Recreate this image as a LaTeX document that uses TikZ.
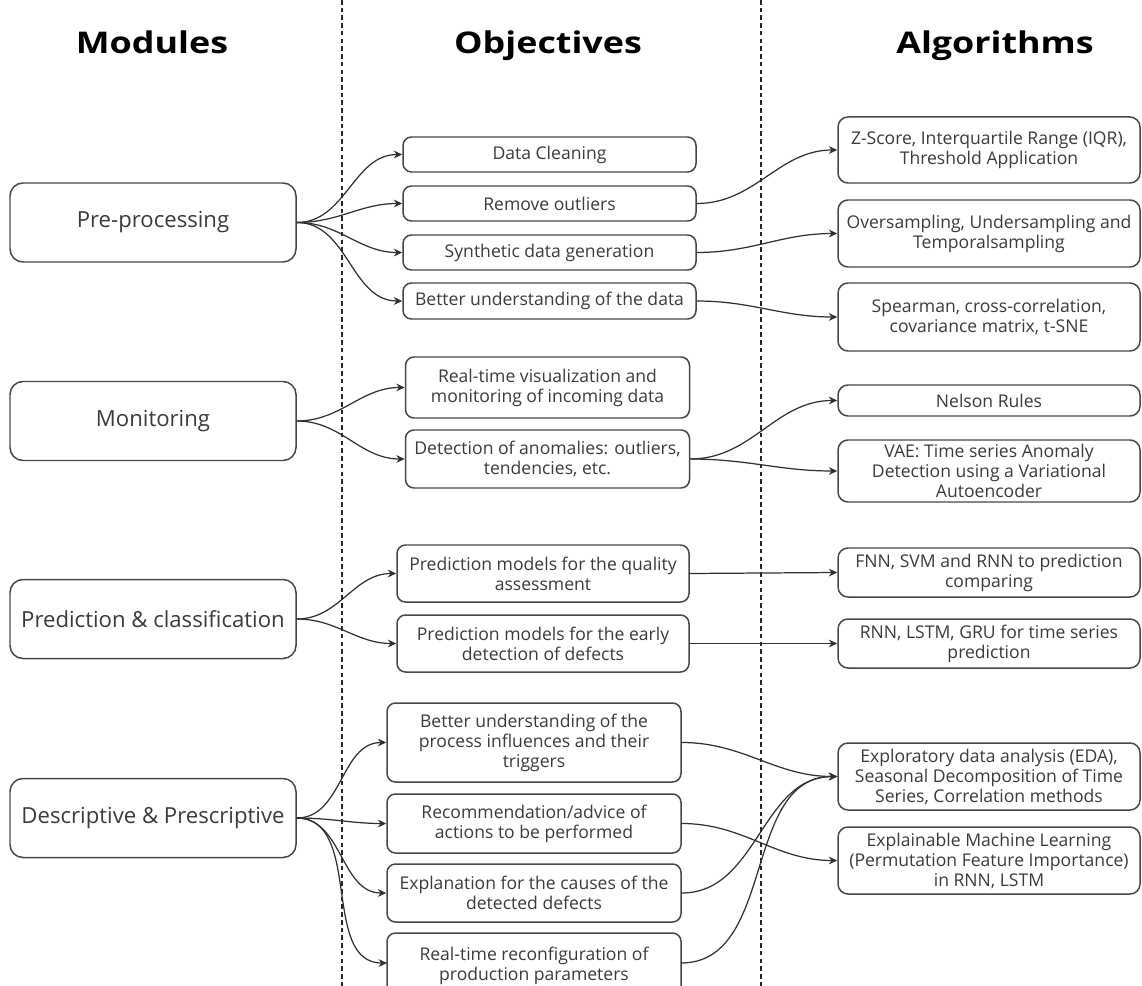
\documentclass[tikz,border=0pt]{standalone}
\usepackage{fontspec}
\setmainfont{Open Sans}
\usetikzlibrary{arrows.meta}
\definecolor{boxc}{HTML}{474747}
\definecolor{txtc}{HTML}{3A3A3A}
\definecolor{arrc}{HTML}{303030}
\newcommand{\hdrtext}[1]{\scalebox{1.2}[1.0]{#1}}
\tikzset{
  bx/.style 2 args={minimum width=#1*0.02cm, minimum height=#2*0.02cm},
  basebox/.style={draw=boxc, line width=0.85pt, inner sep=0pt, align=center, text=txtc},
  mod/.style={basebox, rounded corners=0.26cm, bx={286}{79},
    font=\fontsize{12.6pt}{15pt}\selectfont},
  obj/.style={basebox, rounded corners=0.17cm,
    font=\fontsize{10pt}{11.4pt}\selectfont},
  alg/.style={basebox, rounded corners=0.2cm,
    font=\fontsize{10pt}{11.4pt}\selectfont},
  hdr/.style={font=\fontsize{17pt}{20pt}\selectfont\bfseries, text=black, anchor=base, inner sep=0pt},
  arr/.style={draw=arrc, line width=0.7pt, -{Stealth[length=4.8pt,width=4.4pt]}},
  sep/.style={draw=black!85, line width=0.9pt, dash pattern=on 2.6pt off 1.8pt}
}
\begin{document}
\begin{tikzpicture}[x=0.02cm, y=-0.02cm]
\useasboundingbox (0,0) rectangle (1142,986);

% separators
\coordinate (s1t) at (342,0);
\coordinate (s1b) at (342,986);
\coordinate (s2t) at (761,0);
\coordinate (s2b) at (761,986);
\draw[sep] (s1t) -- (s1b);
\draw[sep] (s2t) -- (s2b);

% headers
\node[hdr] (h1) at (152,54) {\hdrtext{Modules}};
\node[hdr] (h2) at (548,54) {\hdrtext{Objectives}};
\node[hdr] (h3) at (995,54) {\hdrtext{Algorithms}};

% modules
\node[mod] (pre) at (153,222.5) {Pre-processing};
\node[mod] (mon) at (153,421) {Monitoring};
\node[mod] (pc)  at (153,619) {Prediction \& classification};
\node[mod] (dp)  at (153,818) {Descriptive \& Prescriptive};

% objectives
\node[obj, bx={293}{35}] (o1) at (549.5,154.5) {Data Cleaning};
\node[obj, bx={293}{35}] (o2) at (549.5,203.5) {Remove outliers};
\node[obj, bx={293}{35}] (o3) at (549.5,252.5) {Synthetic data generation};
\node[obj, bx={293}{36}] (o4) at (549.5,301) {Better understanding of the data};
\node[obj, bx={284}{61}] (o5) at (547.5,387.5) {Real-time visualization and\\monitoring of incoming data};
\node[obj, bx={284}{58}] (o6) at (547.5,459) {Detection of anomalies: outliers,\\tendencies, etc.};
\node[obj, bx={292}{57}] (o7) at (543,573.5) {Prediction models for the quality\\assessment};
\node[obj, bx={292}{57}] (o8) at (543,643.5) {Prediction models for the early\\detection of defects};
\node[obj, bx={294}{79}] (o9) at (534,742.5) {Better understanding of the\\process influences and their\\triggers};
\node[obj, bx={294}{59}] (o10) at (534,823.5) {Recommendation/advice of\\actions to be performed};
\node[obj, bx={294}{58}] (o11) at (534,893) {Explanation for the causes of the\\detected defects};
\node[obj, bx={294}{66}] (o12) at (534,966) {Real-time reconfiguration of\\production parameters};

% algorithms
\node[alg, bx={302}{66}] (a1) at (989,150) {Z-Score, Interquartile Range (IQR),\\Threshold Application};
\node[alg, bx={302}{67}] (a2) at (989,233.5) {Oversampling, Undersampling and\\Temporalsampling};
\node[alg, bx={302}{68}] (a3) at (989,317) {Spearman, cross-correlation,\\covariance matrix, t-SNE};
\node[alg, bx={302}{31}] (a4) at (989,400.5) {Nelson Rules};
\node[alg, bx={302}{62}] (a5) at (989,471) {VAE: Time series Anomaly\\Detection using a Variational\\Autoencoder};
\node[alg, bx={302}{49}] (a6) at (989,572.5) {FNN, SVM and RNN to prediction\\comparing};
\node[alg, bx={302}{49}] (a7) at (989,643.5) {RNN, LSTM, GRU for time series\\prediction};
\node[alg, bx={302}{67}] (a8) at (989,776.5) {Exploratory data analysis (EDA),\\Seasonal Decomposition of Time\\Series, Correlation methods};
\node[alg, bx={302}{67}] (a9) at (989,860.5) {Explainable Machine Learning\\(Permutation Feature Importance)\\in RNN, LSTM};

% module -> objective
\foreach \t in {o1,o2,o3,o4} \draw[arr] (pre.east) to[out=0,in=180] (\t.west);
\foreach \t in {o5,o6} \draw[arr] (mon.east) to[out=0,in=180] (\t.west);
\foreach \t in {o7,o8} \draw[arr] (pc.east) to[out=0,in=180] (\t.west);
\foreach \t in {o9,o10,o11} \draw[arr] (dp.east) to[out=0,in=180] (\t.west);
\coordinate (o12in) at (387,963);
\draw[arr] (dp.east) to[out=0,in=180] (o12in);

% objective -> algorithm
\draw[arr] (o2.east) to[out=0,in=180] (a1.west);
\draw[arr] (o3.east) to[out=0,in=180] (a2.west);
\draw[arr] (o4.east) to[out=0,in=180] (a3.west);
\draw[arr] (o6.east) to[out=0,in=180] (a4.west);
\draw[arr] (o6.east) to[out=0,in=180] (a5.west);
\draw[arr] (o7.east) -- (a6.west);
\draw[arr] (o8.east) -- (a7.west);
\draw[arr] (o9.east) to[out=0,in=180] (a8.west);
\draw[arr] (o10.east) to[out=0,in=180] (a9.west);
\draw[arr] (o11.east) to[out=0,in=180] (a8.west);
\coordinate (o12out) at (681,963);
\draw[arr] (o12out) to[out=0,in=180] (a8.west);
\end{tikzpicture}
\end{document}
